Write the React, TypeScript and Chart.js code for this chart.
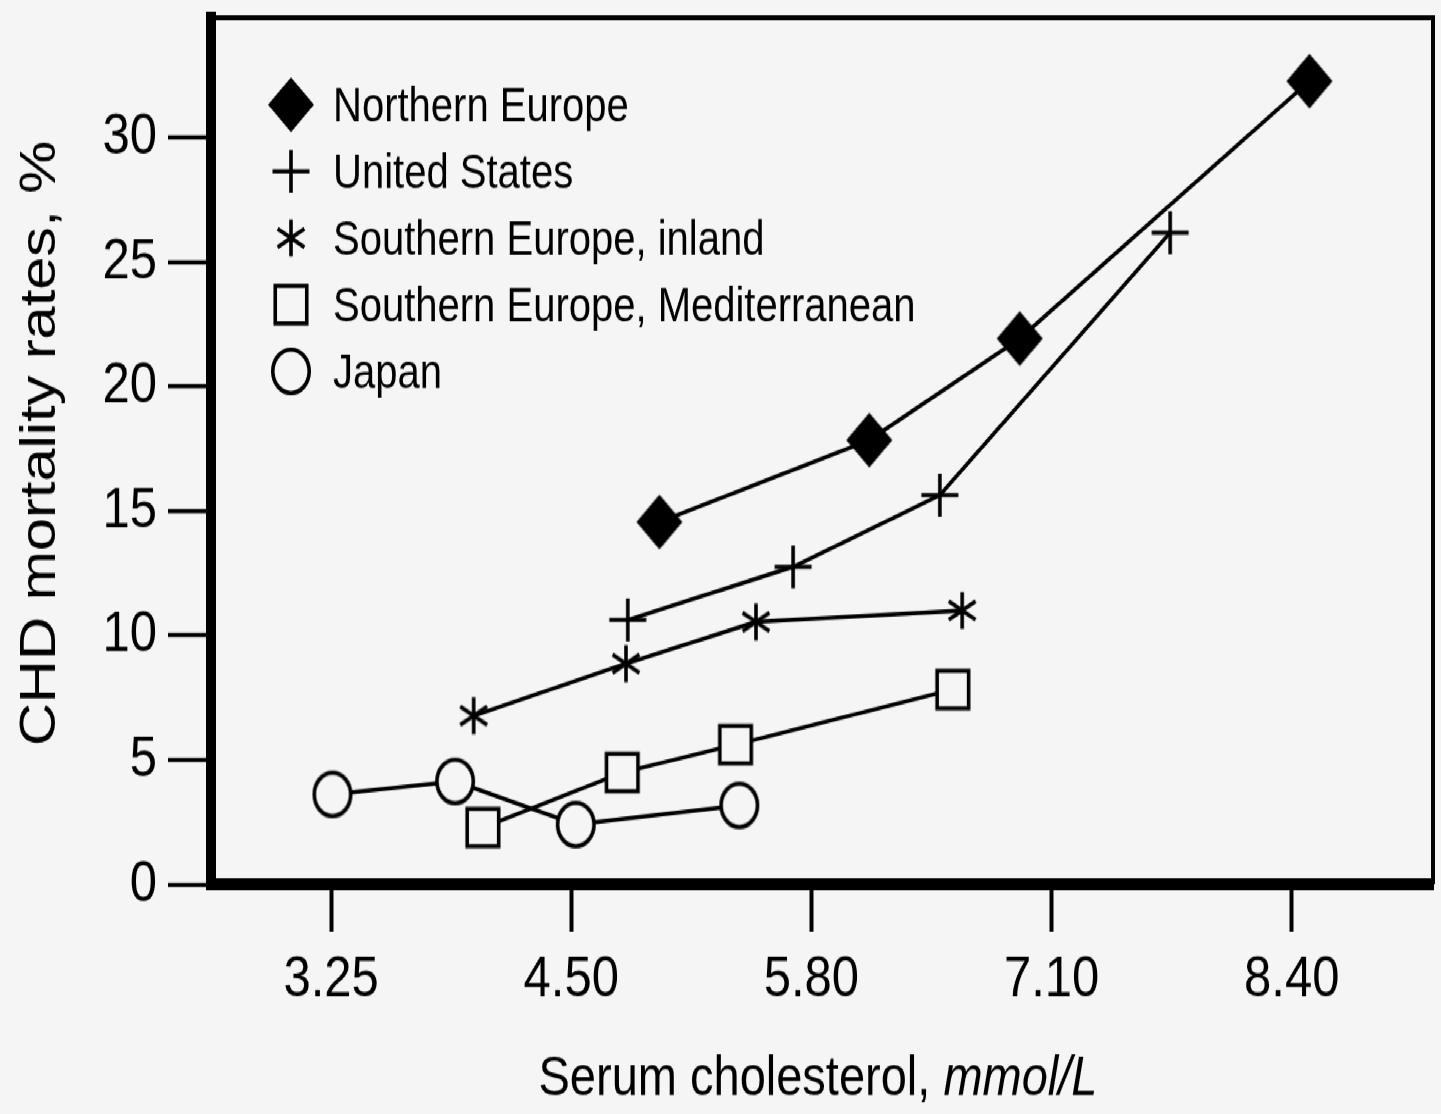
import React, { useEffect, useRef } from 'react';
import { Chart, registerables } from 'chart.js';

Chart.register(...registerables);

// ---------- data ----------
const seriesNames = [
  'Northern Europe',
  'United States',
  'Southern Europe, inland',
  'Southern Europe, Mediterranean',
  'Japan',
];
const markerKinds = ['diamond', 'plus', 'star', 'square', 'circle'];

const northernEuropeX = [5.0, 6.13, 6.94, 8.5];
const northernEuropeY = [14.55, 17.84, 21.92, 32.26];
const unitedStatesX = [4.83, 5.72, 6.51, 7.75];
const unitedStatesY = [10.62, 12.75, 15.63, 26.17];
const southernInlandX = [4.0, 4.82, 5.52, 6.63];
const southernInlandY = [6.77, 8.86, 10.54, 11.0];
const mediterraneanX = [4.05, 4.8, 5.41, 6.58];
const mediterraneanY = [2.28, 4.49, 5.61, 7.82];
const japanX = [3.24, 3.9, 4.55, 5.43];
const japanY = [3.61, 4.13, 2.4, 3.17];

// x ticks: 125..325 mg/dL shown as mmol/L
const xTickMgdl = [125, 175, 225, 275, 325];
const xTickLabels = ['3.25', '4.50', '5.80', '7.10', '8.40'];
const MGDL_PER_MMOL = 38.67;
const yTicks = [0, 5, 10, 15, 20, 25, 30];

const xTitleMain = 'Serum cholesterol, ';
const xTitleUnit = 'mmol/L';
const yTitle = 'CHD mortality rates, %';

const seriesX = [northernEuropeX, unitedStatesX, southernInlandX, mediterraneanX, japanX];
const seriesY = [northernEuropeY, unitedStatesY, southernInlandY, mediterraneanY, japanY];

// ---------- styling ----------
const BG = '#f5f5f5';
const FONT = '"Liberation Sans", Arial, sans-serif';
const W = 1441;
const H = 936; // drawn height, stretched vertically to 1114
const STRETCH = 1114 / H;

function makeMarker(kind: string): HTMLCanvasElement {
  const size = 54;
  const c = document.createElement('canvas');
  c.width = size;
  c.height = size;
  const ctx = c.getContext('2d')!;
  const m = size / 2;
  ctx.strokeStyle = '#000';
  ctx.fillStyle = '#000';
  ctx.lineWidth = 3.6;
  ctx.lineCap = 'butt';
  ctx.beginPath();
  if (kind === 'diamond') {
    ctx.moveTo(m, m - 23);
    ctx.lineTo(m + 23, m);
    ctx.lineTo(m, m + 23);
    ctx.lineTo(m - 23, m);
    ctx.closePath();
    ctx.fill();
  } else if (kind === 'plus') {
    ctx.moveTo(m - 18.5, m);
    ctx.lineTo(m + 18.5, m);
    ctx.moveTo(m, m - 18);
    ctx.lineTo(m, m + 18);
    ctx.stroke();
  } else if (kind === 'star') {
    const r = 15.5;
    for (const a of [90, 30, 150]) {
      const rad = (a * Math.PI) / 180;
      ctx.moveTo(m - Math.cos(rad) * r, m - Math.sin(rad) * r);
      ctx.lineTo(m + Math.cos(rad) * r, m + Math.sin(rad) * r);
    }
    ctx.stroke();
  } else if (kind === 'square') {
    const s = 31.5;
    ctx.rect(m - s / 2, m - s / 2, s, s);
    ctx.fillStyle = BG;
    ctx.fill();
    ctx.stroke();
  } else if (kind === 'circle') {
    ctx.arc(m, m, 18.2, 0, Math.PI * 2);
    ctx.fillStyle = BG;
    ctx.fill();
    ctx.stroke();
  }
  return c;
}

export default function App() {
  const ref = useRef<HTMLCanvasElement>(null);

  useEffect(() => {
    const canvas = ref.current!;
    const markers = markerKinds.map((k) => makeMarker(k));

    const datasets = seriesNames.map((name, i) => ({
      label: name,
      data: seriesX[i].map((x, j) => ({ x, y: seriesY[i][j] })),
      borderColor: '#000',
      backgroundColor: '#000',
      borderWidth: 3.5,
      pointStyle: markers[i] as any,
      pointRadius: 20,
      pointHoverRadius: 20,
      tension: 0,
      fill: false,
      showLine: true,
    }));

    const decor = {
      id: 'decor',
      beforeDraw(chart: any) {
        const ctx = chart.ctx;
        ctx.save();
        ctx.fillStyle = BG;
        ctx.fillRect(0, 0, chart.width, chart.height);
        ctx.restore();
      },
      beforeDatasetsDraw(chart: any) {
        const { ctx, chartArea } = chart;
        ctx.save();
        ctx.strokeStyle = '#000';
        ctx.lineWidth = 4;
        ctx.beginPath();
        ctx.moveTo(chartArea.left, chartArea.top);
        ctx.lineTo(chartArea.right, chartArea.top);
        ctx.lineTo(chartArea.right, chartArea.bottom);
        ctx.stroke();
        ctx.restore();
      },
      afterDraw(chart: any) {
        const { ctx } = chart;
        ctx.save();
        ctx.fillStyle = '#000';
        // legend
        ctx.font = `40px ${FONT}`;
        ctx.textAlign = 'left';
        ctx.textBaseline = 'alphabetic';
        seriesNames.forEach((name, i) => {
          const cy = 88 + i * 56;
          const mk = markers[i];
          ctx.drawImage(mk, 291 - mk.width / 2, cy - mk.height / 2);
          ctx.fillText(name, 333, cy + 14.3);
        });
        // x title
        ctx.font = `47px ${FONT}`;
        const w1 = ctx.measureText(xTitleMain).width;
        ctx.font = `italic 47px ${FONT}`;
        const w2 = ctx.measureText(xTitleUnit).width;
        const start = 818 - (w1 + w2) / 2;
        ctx.font = `47px ${FONT}`;
        ctx.fillText(xTitleMain, start, 920);
        ctx.font = `italic 47px ${FONT}`;
        ctx.fillText(xTitleUnit, start + w1, 920);
        // y title
        ctx.translate(55, 372.6);
        ctx.rotate(-Math.PI / 2);
        ctx.font = `50px ${FONT}`;
        ctx.textAlign = 'center';
        ctx.fillText(yTitle, 0, 0);
        ctx.restore();
      },
    };

    const chart = new Chart(canvas, {
      type: 'line',
      data: { datasets: datasets as any },
      options: {
        animation: false,
        responsive: false,
        devicePixelRatio: 1,
        events: [],
        layout: { autoPadding: false, padding: { top: 15, right: 8, left: 0, bottom: 0 } },
        plugins: {
          legend: { display: false },
          tooltip: { enabled: false },
        },
        scales: {
          x: {
            type: 'linear',
            min: 2.586,
            max: 9.165,
            afterBuildTicks: (s: any) => {
              s.ticks = xTickMgdl.map((v) => ({ value: v / MGDL_PER_MMOL }));
            },
            afterFit: (s: any) => {
              s.height = 193;
              s.paddingLeft = 0;
              s.paddingRight = 0;
              s.paddingTop = 0;
              s.paddingBottom = 0;
            },
            border: { display: true, width: 10, color: '#000' },
            grid: {
              drawOnChartArea: false,
              drawTicks: true,
              tickLength: 40,
              tickWidth: 4,
              tickColor: '#000',
              color: '#000',
            },
            ticks: {
              color: '#000',
              padding: 16,
              maxRotation: 0,
              autoSkip: false,
              font: { family: FONT, size: 49, lineHeight: 1 },
              callback: (_v: any, i: number) => xTickLabels[i],
            },
          },
          y: {
            type: 'linear',
            min: 0,
            max: 34.8,
            afterBuildTicks: (s: any) => {
              s.ticks = yTicks.map((v) => ({ value: v }));
            },
            afterFit: (s: any) => {
              s.width = 211;
              s.paddingLeft = 0;
              s.paddingRight = 0;
              s.paddingTop = 0;
              s.paddingBottom = 0;
            },
            border: { display: true, width: 10, color: '#000' },
            grid: {
              drawOnChartArea: false,
              drawTicks: true,
              tickLength: 43,
              tickWidth: 3.5,
              tickColor: '#000',
              color: '#000',
            },
            ticks: {
              color: '#000',
              padding: 11,
              autoSkip: false,
              font: { family: FONT, size: 49, lineHeight: 1 },
              callback: (v: any) => String(v),
            },
          },
        },
      },
      plugins: [decor],
    });

    return () => chart.destroy();
  }, []);

  return (
    <div
      style={{
        position: 'absolute',
        left: 0,
        top: 0,
        width: W,
        height: H,
        background: BG,
        transform: `scaleY(${STRETCH})`,
        transformOrigin: '0 0',
      }}
    >
      <canvas ref={ref} width={W} height={H} style={{ display: 'block' }} />
    </div>
  );
}
